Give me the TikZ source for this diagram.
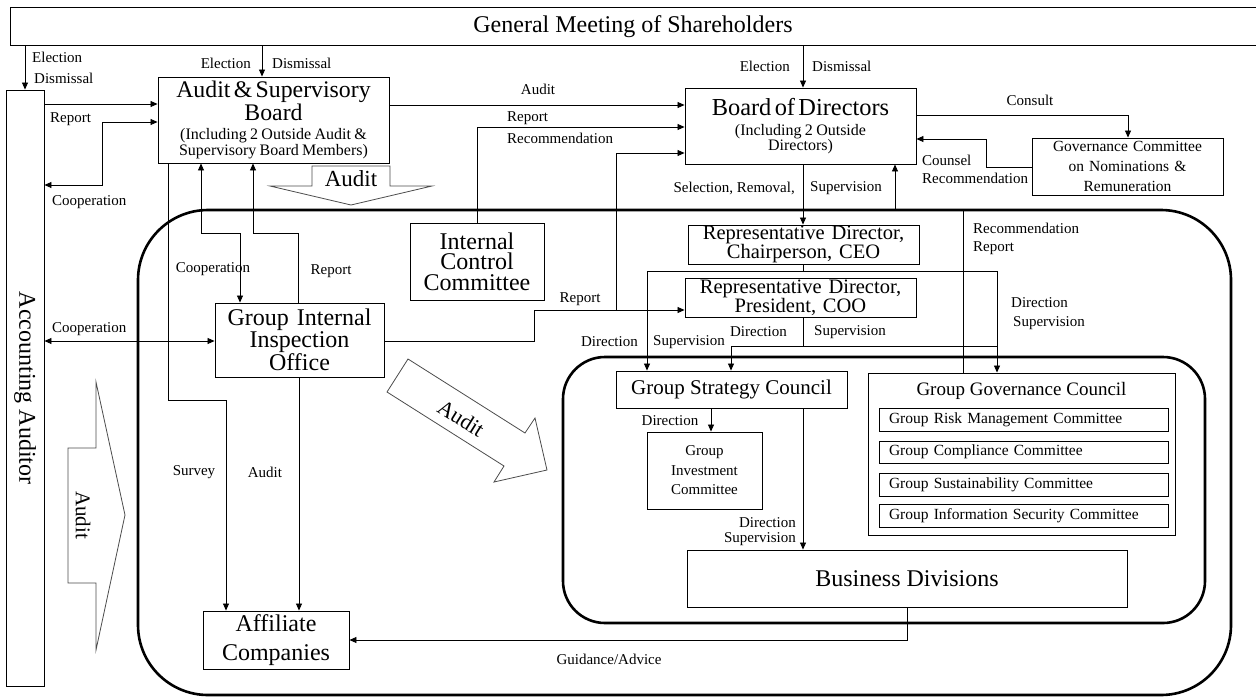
\documentclass[tikz,border=0pt]{standalone}
\usepackage{fontspec}
\setmainfont{Liberation Serif}
\usetikzlibrary{arrows.meta}
\newcommand\fsz[2]{\fontsize{#1}{#2}\selectfont}
\begin{document}
\begin{tikzpicture}[x=1pt,y=-1pt,
  box/.style={draw, line width=0.9pt, inner sep=0pt, align=center},
  arr/.style={line width=0.8pt, -{Triangle[length=7pt,width=6pt]}},
  arrs/.style={line width=0.8pt, {Triangle[length=7pt,width=6pt]}-{Triangle[length=7pt,width=6pt]}},
  ln/.style={line width=0.8pt},
  lbl/.style={font=\fsz{15}{18}, inner sep=0pt},
  container/.style={draw, line width=2.6pt},
  blockarrow/.style={draw=black!70, line width=0.8pt, fill=white},
  sub/.style={box, minimum width=289pt, text width=269pt, align=left, font=\fsz{15.5}{18}},
]
\useasboundingbox (0,0) rectangle (1256,697);

% containers
\node[container, rounded corners=70pt, minimum width=1093pt, minimum height=485pt, inner sep=0] (outer) at (684.5,452.5) {};
\node[container, rounded corners=42pt, minimum width=642pt, minimum height=266pt, inner sep=0] (inner) at (884,490) {};

% top
\node[draw, line width=0.9pt, minimum width=1262pt, minimum height=38pt, inner sep=0] (gm) at (641,26) {};
\node[font=\fsz{24}{26}, inner sep=0] (gmt) at (633,27) {General Meeting of Shareholders};

% accounting auditor
\node[box, minimum width=38pt, minimum height=596pt] (aa) at (25,388) {};
\node[font=\fsz{24}{26}, rotate=-90, inner sep=0] (aat) at (25,388) {Accounting Auditor};

% boxes
\node[box, minimum width=231pt, minimum height=86pt, text width=229pt] (asb) at (273.5,120)
  {\fsz{23.8}{20}Audit \& Supervisory\\Board\par\fsz{16}{19}(Including 2 Outside Audit \&\\Supervisory Board Members)};
\node[box, minimum width=231pt, minimum height=76pt, text width=229pt] (bod) at (800.5,126)
  {\fsz{24.4}{21}Board of Directors\par\fsz{16}{20}(Including 2 Outside\\Directors)};
\node[box, minimum width=191pt, minimum height=57pt, text width=189pt, font=\fsz{15.5}{20}] (gcnr) at (1127.5,166.5)
  {Governance Committee\\on Nominations \&\\Remuneration};
\node[box, minimum width=134pt, minimum height=77pt, text width=132pt, font=\fsz{24}{20.5}] (icc) at (477,261.5)
  {Internal\\Control\\Committee};
\node[box, minimum width=231pt, minimum height=39pt, text width=229pt, font=\fsz{20.5}{19}] (ceo) at (803.5,244.5)
  {Representative Director,\\Chairperson, CEO};
\node[box, minimum width=231pt, minimum height=39pt, text width=229pt, font=\fsz{20.5}{19}] (coo) at (800.5,297.5)
  {Representative Director,\\President, COO};
\node[box, minimum width=169pt, minimum height=74pt, text width=167pt, font=\fsz{24}{22}] (giio) at (299.5,340)
  {Group Internal\\Inspection\\Office};
\node[box, minimum width=231pt, minimum height=37pt, font=\fsz{21}{22}] (gsc) at (731.5,389.5) {Group Strategy Council};
\node[box, minimum width=307pt, minimum height=162pt] (ggc) at (1021.5,454) {};
\node[font=\fsz{19}{22}, inner sep=0] (ggct) at (1021.5,391) {Group Governance Council};
\node[sub, minimum height=23pt] (risk) at (1023.5,419.5) {Group Risk Management Committee};
\node[sub, minimum height=22pt] (comp) at (1023.5,452) {Group Compliance Committee};
\node[sub, minimum height=23pt] (sust) at (1023.5,484.5) {Group Sustainability Committee};
\node[sub, minimum height=23pt] (info) at (1023.5,515.5) {Group Information Security Committee};
\node[box, minimum width=115pt, minimum height=77pt, text width=113pt, font=\fsz{15}{19.5}] (gic) at (704.5,470.5)
  {Group\\Investment\\Committee};
\node[box, minimum width=440pt, minimum height=57pt, font=\fsz{24}{26}] (bd) at (907,578.5) {Business Divisions};
\node[box, minimum width=146pt, minimum height=58pt, text width=144pt, font=\fsz{24}{29}] (aff) at (276,640)
  {Affiliate\\Companies};

% block arrows
\draw[blockarrow] (312,166) -- (390,166) -- (390,186) -- (432,186) -- (351,205) -- (270,186) -- (312,186) -- cycle;
\node[font=\fsz{23}{24}, inner sep=0] (auditA) at (351,179) {Audit};
\draw[blockarrow] (68,448) -- (96,448) -- (96,382) -- (125,515) -- (96,650) -- (96,583) -- (68,583) -- cycle;
\node[font=\fsz{21}{22}, rotate=-90, inner sep=0] (auditB) at (83,515) {Audit};
\draw[blockarrow] (408,359) -- (525,433) -- (535,418) -- (547,470) -- (494,482) -- (504,466) -- (387,392) -- cycle;
\node[font=\fsz{22}{22}, rotate=-32, inner sep=0] (auditC) at (461,418) {Audit};

% connectors
\draw[arr] (aa.north |- gm.south) -- (aa.north);
\draw[arr] (gm.south -| 262,0) -- (asb.north -| 262,0);
\draw[arr] (aa.east |- 0,104) -- (asb.west |- 0,104);
\draw[arrs] (asb.west |- 0,122) -- (102,122) -- (102,185) -- (aa.east |- 0,185);
\draw[arr] (asb.east |- 0,105) -- (bod.west |- 0,105);
\draw[arr] (gm.south -| 803,0) -- (bod.north -| 803,0);
\draw[arr] (icc.north) -- (477,127) -- (bod.west |- 0,127);
\draw[arr] (giio.east |- 0,341) -- (534,341) -- (534,310) -- (coo.west |- 0,310);
\draw[arr] (616,310) -- (616,153) -- (bod.west |- 0,153);
\draw[arr] (bod.east |- 0,115) -- (1128,115) -- (gcnr.north -| 1128,0);
\draw[arr] (gcnr.west |- 0,167) -- (986,167) -- (986,139) -- (bod.east |- 0,139);
\draw[arr] (bod.south -| 803,0) -- (ceo.north -| 803,0);
\draw[arr] (ggc.north -| 963,0) -- (963,210) -- (895,210) -- (bod.south -| 895,0);
\draw[arr] (ceo.south -| 803,0) -- (803,271) -| (gsc.north -| 647,0);
\draw[arr] (803,271) -| (ggc.north -| 997,0);
\draw[arr] (coo.south -| 803,0) -- (803,346) -| (gsc.north -| 731,0);
\draw[ln] (803,346) -- (997,346);
\draw[arr] (gsc.south -| 711,0) -- (gic.north -| 711,0);
\draw[arr] (gsc.south -| 803,0) -- (bd.north -| 803,0);
\draw[arr] (bd.south -| 907,0) -- (907,640) -- (aff.east |- 0,640);
\draw[arrs] (asb.south -| 201,0) -- (201,233) -- (240,233) -- (giio.north -| 240,0);
\draw[arr] (giio.north -| 298,0) -- (298,233) -- (253,233) -- (asb.south -| 253,0);
\draw[arr] (asb.south -| 168,0) -- (168,400) -- (226,400) -- (aff.north -| 226,0);
\draw[arr] (giio.south -| 299,0) -- (aff.north -| 299,0);
\draw[arrs] (aa.east |- 0,341) -- (giio.west |- 0,341);

% labels
\node[lbl, anchor=west] (l1) at (32,57) {Election};
\node[lbl, anchor=west] (l2) at (34,78) {Dismissal};
\node[lbl, anchor=east] (l3) at (251,63) {Election};
\node[lbl, anchor=west] (l4) at (272,63) {Dismissal};
\node[lbl, anchor=west] (l5) at (50,119) {Report};
\node[lbl, anchor=west] (l6) at (52,202) {Cooperation};
\node[lbl] (l7) at (538,89) {Audit};
\node[lbl, anchor=east] (l8) at (790,66) {Election};
\node[lbl, anchor=west] (l9) at (812,66) {Dismissal};
\node[lbl, anchor=west] (l10) at (507,118) {Report};
\node[lbl, anchor=west] (l11) at (507,138) {Recommendation};
\node[lbl] (l12) at (580,299) {Report};
\node[lbl] (l13) at (1030,100) {Consult};
\node[lbl, anchor=west] (l14) at (922,160) {Counsel};
\node[lbl, anchor=west] (l15) at (922,178) {Recommendation};
\node[lbl, anchor=east] (l16) at (795,188) {Selection, Removal,};
\node[lbl, anchor=west] (l17) at (810,188) {Supervision};
\node[lbl, anchor=west] (l18) at (973,228) {Recommendation};
\node[lbl, anchor=west] (l19) at (973,248) {Report};
\node[lbl, anchor=east] (l20) at (638,342) {Direction};
\node[lbl, anchor=west] (l21) at (653,342) {Supervision};
\node[lbl, anchor=east] (l22) at (787,332) {Direction};
\node[lbl, anchor=west] (l23) at (814,332) {Supervision};
\node[lbl, anchor=west] (l24) at (1011,303) {Direction};
\node[lbl, anchor=west] (l25) at (1013,323) {Supervision};
\node[lbl] (l26) at (670,421) {Direction};
\node[lbl, anchor=east] (l27) at (796,523) {Direction};
\node[lbl, anchor=east] (l28) at (796,539) {Supervision};
\node[lbl] (l29) at (609,659) {Guidance/Advice};
\node[lbl] (l30) at (213,269) {Cooperation};
\node[lbl] (l31) at (331,271) {Report};
\node[lbl] (l32) at (194,472) {Survey};
\node[lbl] (l33) at (265,472) {Audit};
\node[lbl, anchor=west] (l34) at (52,329) {Cooperation};
\end{tikzpicture}
\end{document}
